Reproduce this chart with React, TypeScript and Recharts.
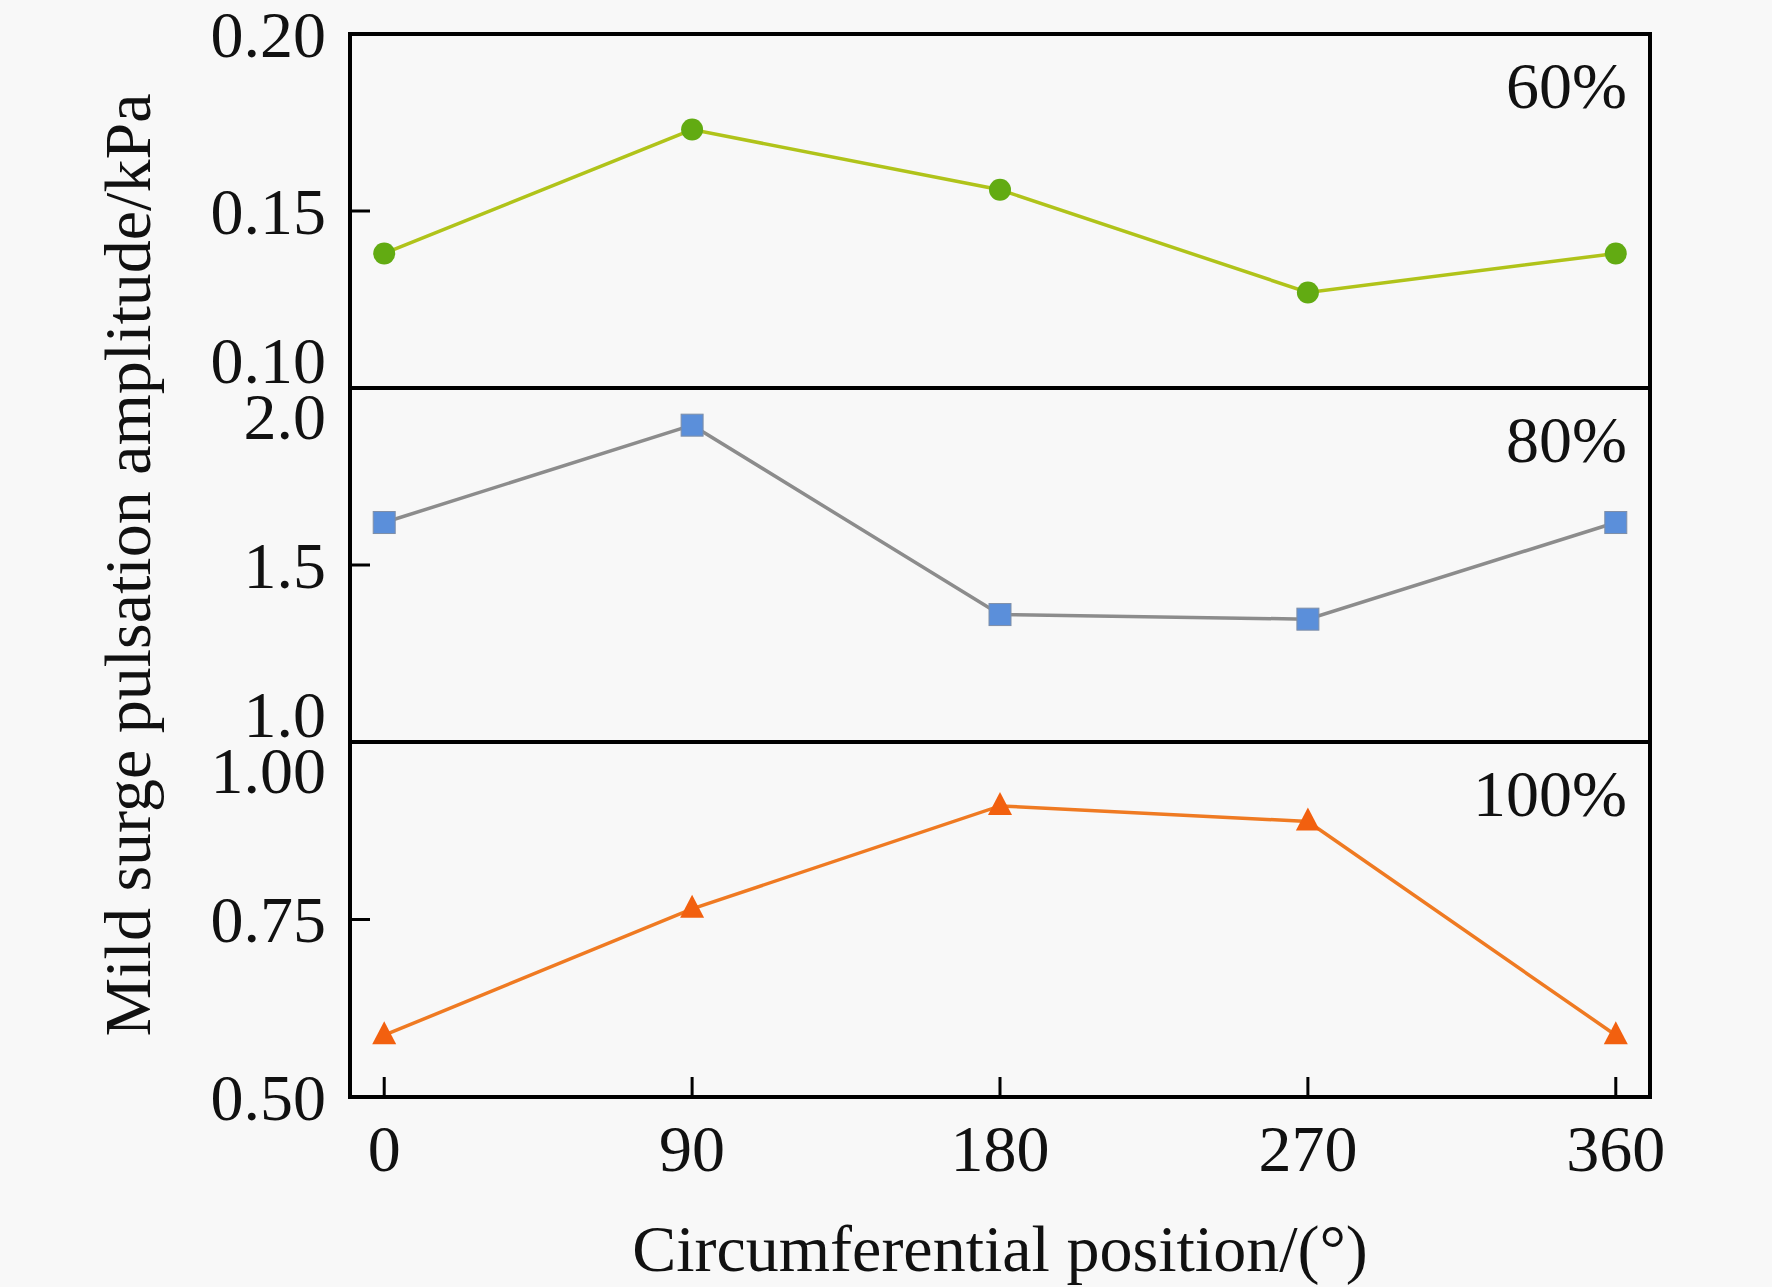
import React from 'react';
import { LineChart, Line, XAxis, YAxis, ReferenceArea, Label } from 'recharts';

// circumferential positions (deg) and the three load cases
const positions = [0, 90, 180, 270, 360];
const xTicks = [0, 90, 180, 270, 360];
const amp60 = [0.138, 0.173, 0.156, 0.127, 0.138];
const amp80 = [1.62, 1.895, 1.36, 1.347, 1.62];
const amp100 = [0.587, 0.765, 0.91, 0.888, 0.587];
const ticks60 = [0.1, 0.15, 0.2];
const ticks80 = [1.0, 1.5, 2.0];
const ticks100 = [0.5, 0.75, 1.0];

const W = 1772;
const H = 1287;
const LEFT = 350;
const RIGHT = 1650;
const BOTTOM = 1097;
const FONT = '"Liberation Serif", "Times New Roman", serif';

const txt = { fontFamily: FONT, fontSize: 66, fill: '#111' };

const makeYTick = (digits: number, shifts: Record<string, number>) => (props: any) => {
  const { y, payload } = props;
  const label = Number(payload.value).toFixed(digits);
  const dy = shifts[label] ?? 0;
  return (
    <g>
      <line x1={LEFT} x2={LEFT + 20} y1={y} y2={y} stroke="#000" strokeWidth={3} />
      <text x={LEFT - 24} y={y + dy} textAnchor="end" dominantBaseline="central" style={txt}>
        {label}
      </text>
    </g>
  );
};

const XTick = (props: any) => {
  const { x, payload } = props;
  return (
    <g>
      <line x1={x} x2={x} y1={BOTTOM} y2={BOTTOM - 20} stroke="#000" strokeWidth={3} />
      <text x={x} y={BOTTOM + 51} textAnchor="middle" dominantBaseline="central" style={txt}>
        {payload.value}
      </text>
    </g>
  );
};

const CircleDot = (p: any) => (
  <circle key={p.index} cx={p.cx} cy={p.cy} r={11} fill="#62ab12" />
);
const SquareDot = (p: any) => (
  <rect key={p.index} x={p.cx - 11} y={p.cy - 11} width={22} height={22} fill="#5b8fda" stroke="#7f8fa8" strokeWidth={1} />
);
const TriangleDot = (p: any) => (
  <polygon
    key={p.index}
    points={`${p.cx},${p.cy - 14} ${p.cx - 12},${p.cy + 9} ${p.cx + 12},${p.cy + 9}`}
    fill="#f2600f"
  />
);

interface PanelProps {
  values: number[];
  ticks: number[];
  digits: number;
  shifts: Record<string, number>;
  top: number;
  bottom: number;
  tag: string;
  color: string;
  dot: (p: any) => React.ReactElement;
  showX?: boolean;
  showYTitle?: boolean;
}

const Panel: React.FC<PanelProps> = ({ values, ticks, digits, shifts, top, bottom, tag, color, dot, showX, showYTitle }) => {
  const data = positions.map((p, i) => ({ pos: p, v: values[i] }));
  return (
    <div style={{ position: 'absolute', left: 0, top: 0 }}>
      <LineChart
        width={W}
        height={H}
        data={data}
        margin={{ top, bottom: showX ? 0 : H - bottom, left: 0, right: W - RIGHT }}
      >
        <XAxis
          dataKey="pos"
          type="number"
          domain={[-10, 370]}
          ticks={xTicks}
          hide={!showX}
          height={showX ? H - BOTTOM : 0}
          axisLine={false}
          tickLine={false}
          tick={<XTick />}
          label={
            showX ? (
              <Label
                content={() => (
                  <text x={(LEFT + RIGHT) / 2} y={1248} textAnchor="middle" dominantBaseline="central" style={txt}>
                    Circumferential position/(°)
                  </text>
                )}
              />
            ) : undefined
          }
        />
        <YAxis
          type="number"
          domain={[ticks[0], ticks[ticks.length - 1]]}
          ticks={ticks}
          width={LEFT}
          axisLine={false}
          tickLine={false}
          tickSize={0}
          tick={makeYTick(digits, shifts)}
          interval={0}
          label={
            showYTitle ? (
              <Label
                content={() => (
                  <text
                    x={127}
                    y={565}
                    transform="rotate(-90, 127, 565)"
                    textAnchor="middle"
                    dominantBaseline="central"
                    style={txt}
                  >
                    Mild surge pulsation amplitude/kPa
                  </text>
                )}
              />
            ) : undefined
          }
        />
        <ReferenceArea
          x1={-10}
          x2={370}
          y1={ticks[0]}
          y2={ticks[ticks.length - 1]}
          fill="none"
          fillOpacity={0}
          stroke="#000"
          strokeWidth={4}
          ifOverflow="visible"
          label={
            <Label
              content={() => (
                <text x={1627} y={top + 51} textAnchor="end" dominantBaseline="central" style={txt}>
                  {tag}
                </text>
              )}
            />
          }
        />
        <Line
          type="linear"
          dataKey="v"
          stroke={color}
          strokeWidth={3.5}
          dot={dot}
          activeDot={false}
          isAnimationActive={false}
        />
      </LineChart>
    </div>
  );
};

export default function App() {
  return (
    <div style={{ position: 'absolute', left: 0, top: 0, width: W, height: H, background: '#f8f8f8' }}>
      <Panel
        values={amp60}
        ticks={ticks60}
        digits={2}
        shifts={{ '0.10': -28 }}
        top={34}
        bottom={388}
        tag="60%"
        color="#b0c31a"
        dot={CircleDot}
      />
      <Panel
        values={amp80}
        ticks={ticks80}
        digits={1}
        shifts={{ '2.0': 28, '1.0': -28 }}
        top={388}
        bottom={742}
        tag="80%"
        color="#8c8c8c"
        dot={SquareDot}
        showYTitle
      />
      <Panel
        values={amp100}
        ticks={ticks100}
        digits={2}
        shifts={{ '1.00': 28 }}
        top={742}
        bottom={BOTTOM}
        tag="100%"
        color="#ef7a22"
        dot={TriangleDot}
        showX
      />
    </div>
  );
}
